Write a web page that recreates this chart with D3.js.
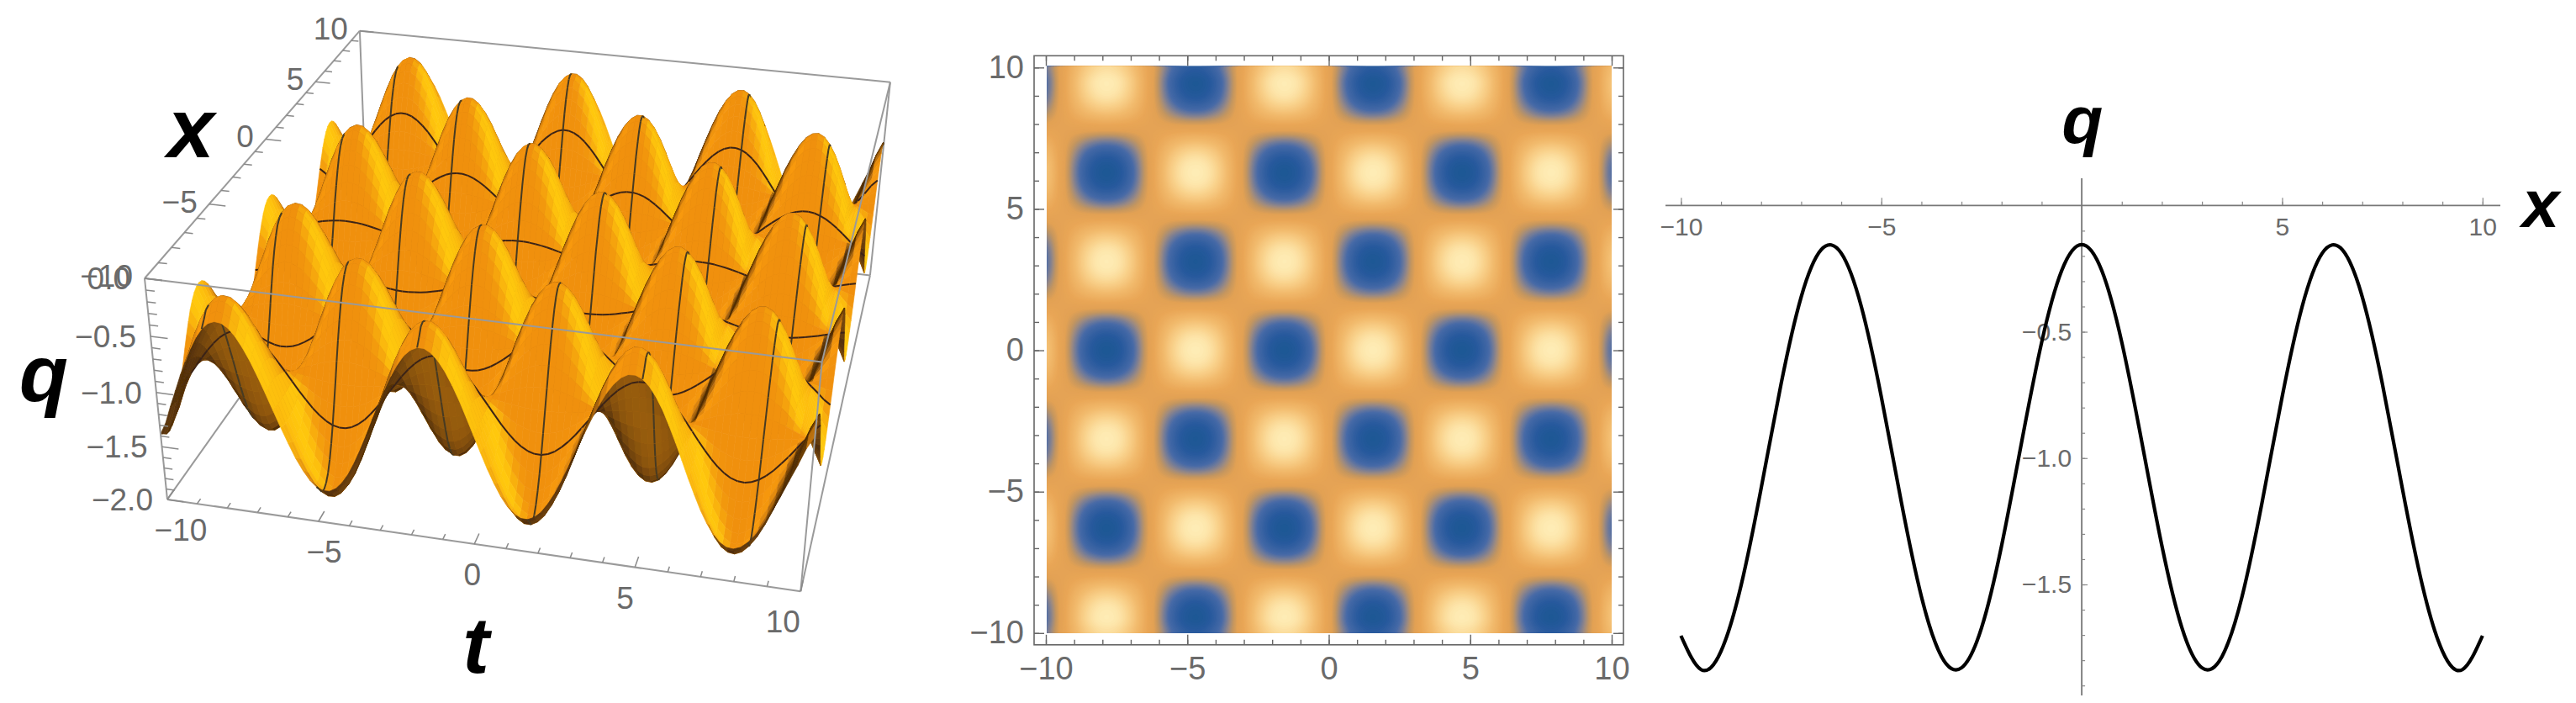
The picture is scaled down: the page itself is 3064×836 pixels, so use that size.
<!DOCTYPE html>
<html>
  <head>
    <meta charset="utf-8">
    <title>q(x,t) surface, density and profile</title>
    <script src="https://cdn.jsdelivr.net/npm/d3@7"></script>
    <style>
html, body { margin: 0; background: #fff; }
svg { display: block; }
text { font-family: "Liberation Sans", sans-serif; fill: #6a6a6a; }
.name { font-weight: bold; font-style: italic; fill: #000; }
.box { stroke: #9a9a9a; stroke-width: 2px; fill: none; }
.tick3d { stroke: #8a8a8a; stroke-width: 1.5px; }
    </style>
  </head>
  <body>
    <script>

// x = -10 .. 10 in steps of 0.5
var xSamples = d3.range(-10, 10.01, 0.5);
var qAtX = [-1.703, -1.837, -1.764, -1.504, -1.120, -0.705, -0.362, -0.175, -0.189, -0.400,
  -0.758, -1.175, -1.548, -1.785, -1.830, -1.672, -1.347, -0.937, -0.542, -0.258,
  -0.155,
  -0.258, -0.542, -0.937, -1.347, -1.672, -1.830, -1.785, -1.548, -1.175, -0.758,
  -0.400, -0.189, -0.175, -0.362, -0.705, -1.120, -1.504, -1.764, -1.837, -1.703];

// relative swing along a row of the density plot, t = -10 .. 10 in steps of 0.5
var tSwing = [0.544, 0.075, -0.412, -0.798, -0.989, -0.938, -0.657, -0.215, 0.279, 0.706,
  0.959, 0.978, 0.757, 0.351, -0.141, -0.598, -0.909, -0.997, -0.841, -0.479,
  0,
  0.479, 0.841, 0.997, 0.909, 0.598, 0.141, -0.351, -0.757, -0.978, -0.959,
  -0.706, -0.279, 0.215, 0.657, 0.938, 0.989, 0.798, 0.412, -0.075, -0.544];
var qMid = -1;

var majorTicks = [-10, -5, 0, 5, 10];
var minorTicks = d3.range(-10, 10.5, 1);
var qTicks3d = [0, -0.5, -1, -1.5, -2];
var qMinor3d = d3.range(0, -2.05, -0.1);
var qTicksLine = [-0.5, -1, -1.5];
var qMinorLine = d3.range(-0.1, -1.95, -0.1);
var meshLines = [-8.33, -5, -1.67, 1.67, 5, 8.33];

var densityStops = [0, 0.06, 0.2, 0.26, 0.32, 0.38, 0.45, 0.55, 0.72, 0.85, 0.95, 1];
var densityColors = ["#1f5896", "#27599d", "#476aa7", "#6f7a9a", "#9b8a82", "#c4965f",
  "#e2a154", "#e9a656", "#f2bb6e", "#f9d28c", "#fde5aa", "#feecb6"];

var width = 3064, height = 836;
var svg = d3.select("body").append("svg").attr("width", width).attr("height", height);
var fmt = d3.format(".1f");

// catmull-rom through the read samples, only to get a finer mesh to draw
function resample(values, n) {
  var last = values.length - 1;
  return d3.range(n + 1).map(function(i) {
    var p = i * last / n, k = Math.min(Math.floor(p), last - 1), f = p - k;
    var a = values[Math.max(k - 1, 0)], b = values[k], c = values[k + 1], d = values[Math.min(k + 2, last)];
    return 0.5 * (2 * b + (c - a) * f + (2 * a - 5 * b + 4 * c - d) * f * f + (3 * b - a - 3 * c + d) * f * f * f);
  });
}

function tableCell(xValue, swing) {
  return qMid + (xValue - qMid) * swing;
}

// ---- left panel: surface in perspective ----
var uScale = d3.scaleLinear().domain([-10, 10]).range([0, 1]);
var vScale = d3.scaleLinear().domain([-10, 10]).range([0, 1]);
var wScale = d3.scaleLinear().domain([0, -2]).range([0, 1]);

var origin = [172, 331];
var vanishU = [-11770, -1143], vanishV = [1326, -996], vanishW = [600, 4500];
var weightU = -0.0632, weightV = 0.285, weightW = 0.0673;

function project(t, x, q) {
  var u = uScale(t) * weightU, v = vScale(x) * weightV, w = wScale(q) * weightW;
  var d = 1 + u + v + w;
  return [(origin[0] + u * vanishU[0] + v * vanishV[0] + w * vanishW[0]) / d,
          (origin[1] + u * vanishU[1] + v * vanishV[1] + w * vanishW[1]) / d, d];
}

var cells = 96;
var xFine = resample(qAtX, cells), tFine = resample(tSwing, cells);
var gridValue = d3.scaleLinear().domain([0, cells]).range([-10, 10]);

var nodes = d3.range(cells + 1).map(function(i) {
  return d3.range(cells + 1).map(function(j) {
    return project(gridValue(j), gridValue(i), tableCell(xFine[i], tFine[j]));
  });
});

var shade = d3.scaleLinear()
    .domain([0, 0.2, 0.45, 0.7, 1])
    .range(["#4f2b04", "#8f5207", "#dc8208", "#f6960e", "#f0900c"]);
var under = d3.scaleLinear().domain([0, 1]).range(["#4e2d07", "#a5650f"]);

var view = [0.25, -0.62, 0.74], rightLight = [0.9, -0.25, 0.35], leftLight = [-0.9, -0.3, 0.3];

function dot(a, b) { return a[0] * b[0] + a[1] * b[1] + a[2] * b[2]; }

var items = [];
function pathOf(list) {
  return "M" + list.map(function(p) { return p[0].toFixed(1) + "," + p[1].toFixed(1); }).join("L");
}
var meshIndex = meshLines.map(function(m) { return Math.round(uScale(m) * cells); });

for (var i = 0; i < cells; i++) {
  for (var j = 0; j < cells; j++) {
    var a = nodes[i][j], b = nodes[i][j + 1], c = nodes[i + 1][j + 1], e = nodes[i + 1][j];
    var q00 = tableCell(xFine[i], tFine[j]), q01 = tableCell(xFine[i], tFine[j + 1]);
    var q10 = tableCell(xFine[i + 1], tFine[j]), q11 = tableCell(xFine[i + 1], tFine[j + 1]);
    var step = 20 / cells;
    var dqT = (q01 + q11 - q00 - q10) / (2 * step), dqX = (q10 + q11 - q00 - q01) / (2 * step);
    var nx = -4 * dqT, ny = -4 * dqX, len = Math.sqrt(nx * nx + ny * ny + 1);
    var n = [nx / len, ny / len, 1 / len];
    var area = (b[0] - a[0]) * (c[1] - a[1]) - (b[1] - a[1]) * (c[0] - a[0]);
    var fill;
    if (area > 0) {
      fill = under(Math.min(1, Math.abs(dot(n, view)) * 2.2));
    } else {
      var face = Math.max(0, dot(n, view));
      var rightGlow = Math.pow(Math.max(0, dot(n, rightLight)), 6);
      var leftGlow = Math.pow(Math.max(0, dot(n, leftLight)), 5) * 0.35;
      var amount = Math.min(1, face * 3);
      fill = d3.interpolateRgb(shade(Math.min(1, face * 1.6)), "#ffc90e")(rightGlow * amount);
      fill = d3.interpolateRgb(fill, "#ffa512")(leftGlow * amount);
    }
    items.push({depth: (a[2] + c[2]) / 2, d: pathOf([a, b, c, e]) + "Z", fill: fill, stroke: fill, w: 0.7});
    if (meshIndex.indexOf(i) >= 0) {
      items.push({depth: (a[2] + b[2]) / 2 - 0.004, d: pathOf([a, b]), fill: "none", stroke: "#3a2418", w: 2});
    }
    if (meshIndex.indexOf(j) >= 0) {
      items.push({depth: (a[2] + e[2]) / 2 - 0.004, d: pathOf([a, e]), fill: "none", stroke: "#463a24", w: 2});
    }
  }
}
items.sort(function(p, r) { return r.depth - p.depth; });

svg.append("defs").append("filter").attr("id", "soft")
  .append("feGaussianBlur").attr("stdDeviation", 0.5);

var left = svg.append("g");
function boxEdge(from, to) {
  left.append("path").attr("class", "box").attr("d", pathOf([project.apply(null, from), project.apply(null, to)]));
}
// back edges go under the surface
boxEdge([-10, 10, 0], [-10, 10, -2]);
boxEdge([-10, -10, -2], [-10, 10, -2]);
boxEdge([-10, 10, -2], [10, 10, -2]);
boxEdge([10, 10, 0], [10, 10, -2]);

left.append("g").attr("filter", "url(#soft)").selectAll("path").data(items).join("path")
    .attr("d", function(p) { return p.d; })
    .attr("fill", function(p) { return p.fill; })
    .attr("stroke", function(p) { return p.stroke; })
    .attr("stroke-width", function(p) { return p.w; });

boxEdge([-10, -10, 0], [-10, 10, 0]);
boxEdge([-10, 10, 0], [10, 10, 0]);
boxEdge([10, 10, 0], [10, -10, 0]);
boxEdge([-10, -10, 0], [10, -10, 0]);
boxEdge([-10, -10, 0], [-10, -10, -2]);
boxEdge([-10, -10, -2], [10, -10, -2]);
boxEdge([10, -10, 0], [10, -10, -2]);
boxEdge([10, -10, -2], [10, 10, -2]);

function tick3d(from, to) {
  left.append("path").attr("class", "tick3d").attr("d", pathOf([project.apply(null, from), project.apply(null, to)]));
}
minorTicks.forEach(function(m) {
  var len = majorTicks.indexOf(m) >= 0 ? 0.55 : 0.28;
  tick3d([m, -10, -2], [m, -10 + len, -2]);
  tick3d([-10, m, 0], [-10 + len, m, 0]);
});
qMinor3d.forEach(function(m) {
  var major = Math.abs(m * 2 - Math.round(m * 2)) < 0.01;
  tick3d([-10, -10, m], [-10 + (major ? 0.55 : 0.28), -10, m]);
});
majorTicks.forEach(function(m) {
  var p = project(m, -10, -2);
  left.append("text").attr("x", p[0] + 16 - 37 * uScale(m)).attr("y", p[1] + 49)
      .attr("text-anchor", "middle").attr("font-size", 37).text(d3.format("d")(m));
  var r = project(-10, m, 0);
  left.append("text").attr("x", r[0] - 14).attr("y", r[1] + 10)
      .attr("text-anchor", "end").attr("font-size", 37).text(d3.format("d")(m));
});
qTicks3d.forEach(function(m) {
  var p = project(-10, -10, m);
  left.append("text").attr("x", p[0] - 17).attr("y", p[1] + 13)
      .attr("text-anchor", "end").attr("font-size", 37).text(fmt(m));
});
left.append("text").attr("class", "name").attr("x", 227).attr("y", 187).attr("text-anchor", "middle").attr("font-size", 100).text("x");
left.append("text").attr("class", "name").attr("x", 52).attr("y", 477).attr("text-anchor", "middle").attr("font-size", 95).text("q");
left.append("text").attr("class", "name").attr("x", 566).attr("y", 800).attr("text-anchor", "middle").attr("font-size", 95).text("t");

// ---- middle panel: density ----
var densX = d3.scaleLinear().domain([-10, 10]).range([1244, 1917]);
var densY = d3.scaleLinear().domain([-10, 10]).range([752.8, 80.3]);
var densColor = d3.scaleLinear().domain(densityStops).range(densityColors);
var qLow = d3.min(qAtX), qHigh = -qLow + 2 * qMid;

var fineN = 200;
var xDens = resample(qAtX, fineN), tDens = resample(tSwing, fineN);
var densValues = [];
xDens.forEach(function(xv) {
  tDens.forEach(function(sw) { densValues.push(tableCell(xv, sw)); });
});

var levels = d3.range(0, 72).map(function(k) { return qLow - 0.02 + k * (qHigh - qLow + 0.04) / 71; });
var contours = d3.contours().size([fineN + 1, fineN + 1]).thresholds(levels)(densValues);
var cellX = d3.scaleLinear().domain([0.5, fineN + 0.5]).range([-10, 10]);
var toPlot = d3.geoTransform({point: function(px, py) {
  this.stream.point(densX(cellX(px)), densY(cellX(py)));
}});

var mid = svg.append("g");
svg.select("defs").append("clipPath").attr("id", "denseClip").append("rect")
    .attr("x", densX(-10) + 1.5).attr("y", densY(10) - 1.5)
    .attr("width", densX(10) - densX(-10) - 1.5).attr("height", densY(-10) - densY(10) + 1.5);
mid.append("g").attr("clip-path", "url(#denseClip)")
  .selectAll("path").data(contours).join("path")
    .attr("d", d3.geoPath(toPlot))
    .attr("fill", function(c) { return densColor((c.value - qLow) / (qHigh - qLow)); });

var frameInset = 14;
mid.append("rect")
    .attr("x", densX(-10) - frameInset).attr("y", densY(10) - frameInset)
    .attr("width", densX(10) - densX(-10) + 2 * frameInset)
    .attr("height", densY(-10) - densY(10) + 2 * frameInset)
    .attr("fill", "none").attr("stroke", "#666").attr("stroke-width", 1.6);

function frameAxis(axis, tx, ty, values, size, labelled) {
  var g = mid.append("g").attr("transform", "translate(" + tx + "," + ty + ")")
      .call(axis.tickValues(values).tickSize(size).tickPadding(12)
        .tickFormat(labelled ? d3.format("d") : ""));
  g.select(".domain").remove();
  g.selectAll("line").attr("stroke", "#666").attr("stroke-width", 1.4);
  g.selectAll("text").attr("font-size", 38).attr("fill", "#666");
  return g;
}
var frameBottom = densY(-10) + frameInset, frameTop = densY(10) - frameInset;
var frameLeft = densX(-10) - frameInset, frameRight = densX(10) + frameInset;
frameAxis(d3.axisBottom(densX), 0, frameBottom, minorTicks, -6, false);
frameAxis(d3.axisTop(densX), 0, frameTop, minorTicks, -6, false);
frameAxis(d3.axisLeft(densY), frameLeft, 0, minorTicks, -6, false);
frameAxis(d3.axisRight(densY), frameRight, 0, minorTicks, -6, false);
frameAxis(d3.axisBottom(densX), 0, frameBottom, majorTicks, -12, true)
  .selectAll("text").attr("dy", "0.78em");
frameAxis(d3.axisTop(densX), 0, frameTop, majorTicks, -12, false);
frameAxis(d3.axisLeft(densY), frameLeft, 0, majorTicks, -12, true);
frameAxis(d3.axisRight(densY), frameRight, 0, majorTicks, -12, false);

// ---- right panel: profile ----
var lineX = d3.scaleLinear().domain([-10, 10]).range([1999.4, 2952.8]);
var lineY = d3.scaleLinear().domain([0, -1.5]).range([244.3, 695]);

var right = svg.append("g");
right.append("line").attr("x1", 1981).attr("x2", 2974).attr("y1", lineY(0)).attr("y2", lineY(0))
    .attr("stroke", "#777").attr("stroke-width", 1.8);
right.append("line").attr("x1", lineX(0)).attr("x2", lineX(0)).attr("y1", 212).attr("y2", 827)
    .attr("stroke", "#777").attr("stroke-width", 1.8);

function plainAxis(axis, tx, ty, size, values, format) {
  var g = right.append("g").attr("transform", "translate(" + tx + "," + ty + ")")
      .call(axis.tickValues(values).tickSize(size).tickFormat(format));
  g.select(".domain").remove();
  g.selectAll("line").attr("stroke", "#888").attr("stroke-width", 1.2);
  g.selectAll("text").attr("font-size", 30).attr("fill", "#6a6a6a");
  return g;
}
plainAxis(d3.axisBottom(lineX), 0, lineY(0), -4.5, minorTicks.filter(function(m) { return m !== 0; }), "");
plainAxis(d3.axisBottom(lineX), 0, lineY(0), -9, majorTicks.filter(function(m) { return m !== 0; }), d3.format("d"))
  .selectAll("text").attr("y", 14);
plainAxis(d3.axisRight(lineY), lineX(0), 0, 4, qMinorLine, "");
plainAxis(d3.axisLeft(lineY), lineX(0), 0, -7, qTicksLine, fmt)
  .selectAll("text").attr("x", -12);

var line = d3.line()
    .x(function(d) { return lineX(d[0]); })
    .y(function(d) { return lineY(d[1]); })
    .curve(d3.curveNatural);
right.append("path")
    .datum(d3.zip(xSamples, qAtX))
    .attr("d", line).attr("fill", "none").attr("stroke", "#000").attr("stroke-width", 4.2);

right.append("text").attr("class", "name").attr("x", 2477).attr("y", 170).attr("text-anchor", "middle").attr("font-size", 80).text("q");
right.append("text").attr("class", "name").attr("x", 3022).attr("y", 270).attr("text-anchor", "middle").attr("font-size", 80).text("x");

</script>
  </body>
</html>
